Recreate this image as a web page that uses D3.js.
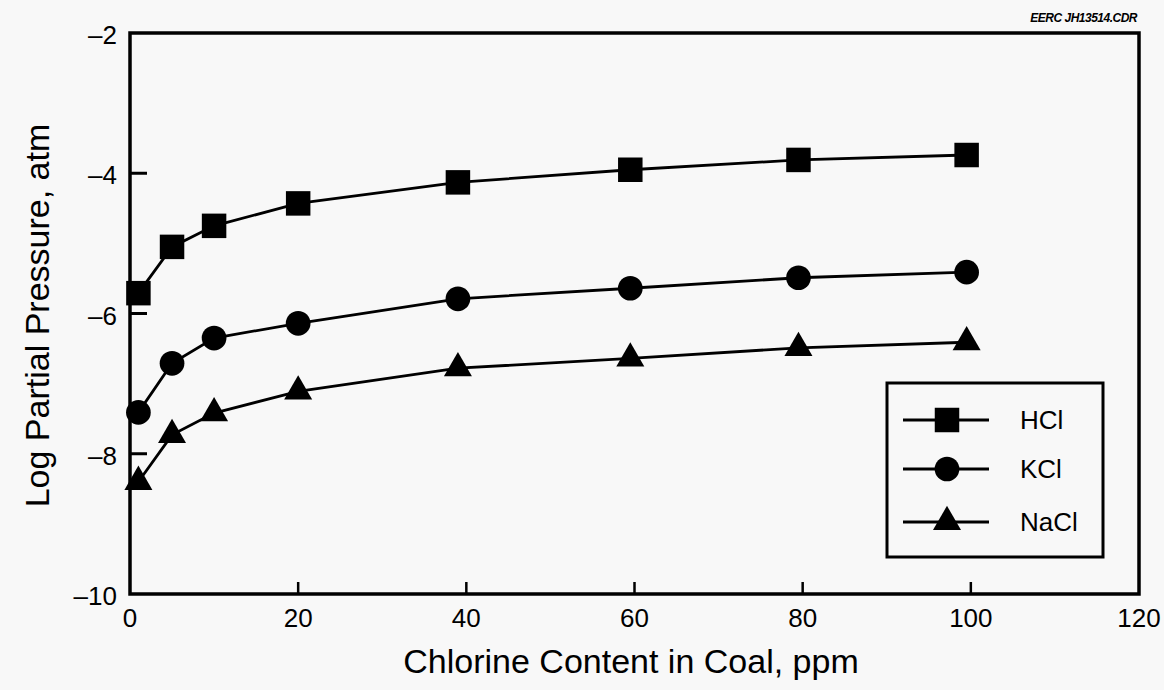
<!DOCTYPE html>
<html>
<head>
    <meta charset="UTF-8">
    <title>Log Partial Pressure vs Chlorine Content</title>
    <script src="https://d3js.org/d3.v7.min.js"></script>
    <style>
        body { margin: 0; background: #f8f8f8; font-family: "Liberation Sans", Arial, sans-serif; }
    </style>
</head>
<body>
<div id="chart"></div>
<script>
    // data
    const seriesNames = ["HCl", "KCl", "NaCl"];
    const chlorine = [1, 5, 10, 20, 39, 59.5, 79.5, 99.5];
    const hcl  = [-5.71, -5.05, -4.75, -4.43, -4.13, -3.95, -3.81, -3.74];
    const kcl  = [-7.41, -6.71, -6.35, -6.14, -5.79, -5.64, -5.49, -5.41];
    const nacl = [-8.40, -7.73, -7.42, -7.11, -6.78, -6.64, -6.49, -6.41];
    const xTicks = [0, 20, 40, 60, 80, 100, 120];
    const yTicks = [-10, -8, -6, -4, -2];

    const W = 1164, H = 690;
    const margin = { top: 33, right: 25, bottom: 96, left: 130 };

    const svg = d3.select("#chart").append("svg")
        .attr("width", W).attr("height", H);

    const x = d3.scaleLinear().domain([0, 120]).range([margin.left, W - margin.right]);
    const y = d3.scaleLinear().domain([-10, -2]).range([H - margin.bottom, margin.top]);

    // inward ticks
    svg.append("g")
        .selectAll("line")
        .data(yTicks.filter(d => d > -10 && d < -2))
        .join("line")
        .attr("x1", x(0)).attr("x2", x(0) + 17)
        .attr("y1", d => y(d)).attr("y2", d => y(d))
        .attr("stroke", "#000").attr("stroke-width", 3);

    svg.append("g")
        .selectAll("line")
        .data(xTicks.filter(d => d > 0 && d < 120))
        .join("line")
        .attr("x1", d => x(d)).attr("x2", d => x(d))
        .attr("y1", y(-10)).attr("y2", y(-10) - 12)
        .attr("stroke", "#000").attr("stroke-width", 2.5);

    // frame
    svg.append("rect")
        .attr("x", x(0)).attr("y", y(-2))
        .attr("width", x(120) - x(0)).attr("height", y(-10) - y(-2))
        .attr("fill", "none").attr("stroke", "#000").attr("stroke-width", 3.5);

    // tick labels
    const fmt = d => d < 0 ? "\u2013" + Math.abs(d) : d;
    svg.append("g")
        .selectAll("text")
        .data(yTicks)
        .join("text")
        .attr("x", x(0) - 13).attr("y", d => y(d) + 11)
        .attr("text-anchor", "end")
        .style("font-size", "26px")
        .text(fmt);

    svg.append("g")
        .selectAll("text")
        .data(xTicks)
        .join("text")
        .attr("x", d => x(d)).attr("y", y(-10) + 33)
        .attr("text-anchor", "middle")
        .style("font-size", "26px")
        .text(d => d);

    // axis titles
    svg.append("text")
        .attr("x", 631).attr("y", 673)
        .attr("text-anchor", "middle")
        .style("font-size", "34px")
        .text("Chlorine Content in Coal, ppm");

    svg.append("text")
        .attr("transform", `translate(49, ${(y(-2) + y(-10)) / 2 + 2}) rotate(-90)`)
        .attr("text-anchor", "middle")
        .style("font-size", "34px")
        .text("Log Partial Pressure, atm");

    svg.append("text")
        .attr("x", 1137).attr("y", 22)
        .attr("text-anchor", "end")
        .style("font-size", "12px").style("font-weight", "bold").style("font-style", "italic")
        .style("letter-spacing", "-0.5px")
        .text("EERC JH13514.CDR");

    // series
    const symbols = [d3.symbolSquare, d3.symbolCircle, d3.symbolTriangle];
    const sizes = [600, 480, 340];
    const allValues = [hcl, kcl, nacl];

    const line = d3.line()
        .x((d, i) => x(chlorine[i]))
        .y(d => y(d));

    allValues.forEach((vals, s) => {
        svg.append("path")
            .datum(vals)
            .attr("fill", "none")
            .attr("stroke", "#000")
            .attr("stroke-width", 2.8)
            .attr("d", line);

        svg.append("g")
            .selectAll("path")
            .data(vals)
            .join("path")
            .attr("transform", (d, i) => `translate(${x(chlorine[i])},${y(d)})`)
            .attr("d", d3.symbol().type(symbols[s]).size(sizes[s]))
            .attr("fill", "#000");
    });

    // legend
    const legend = svg.append("g");
    legend.append("rect")
        .attr("x", 887).attr("y", 383)
        .attr("width", 216).attr("height", 174)
        .attr("fill", "none").attr("stroke", "#000").attr("stroke-width", 3);

    const legendY = [420, 469, 522];
    seriesNames.forEach((name, s) => {
        legend.append("line")
            .attr("x1", 903).attr("x2", 989)
            .attr("y1", legendY[s]).attr("y2", legendY[s])
            .attr("stroke", "#000").attr("stroke-width", 2.8);
        legend.append("path")
            .attr("transform", `translate(947,${legendY[s]})`)
            .attr("d", d3.symbol().type(symbols[s]).size(sizes[s]))
            .attr("fill", "#000");
        legend.append("text")
            .attr("x", 1020).attr("y", legendY[s] + 9)
            .style("font-size", "26px")
            .text(name);
    });
</script>
</body>
</html>
